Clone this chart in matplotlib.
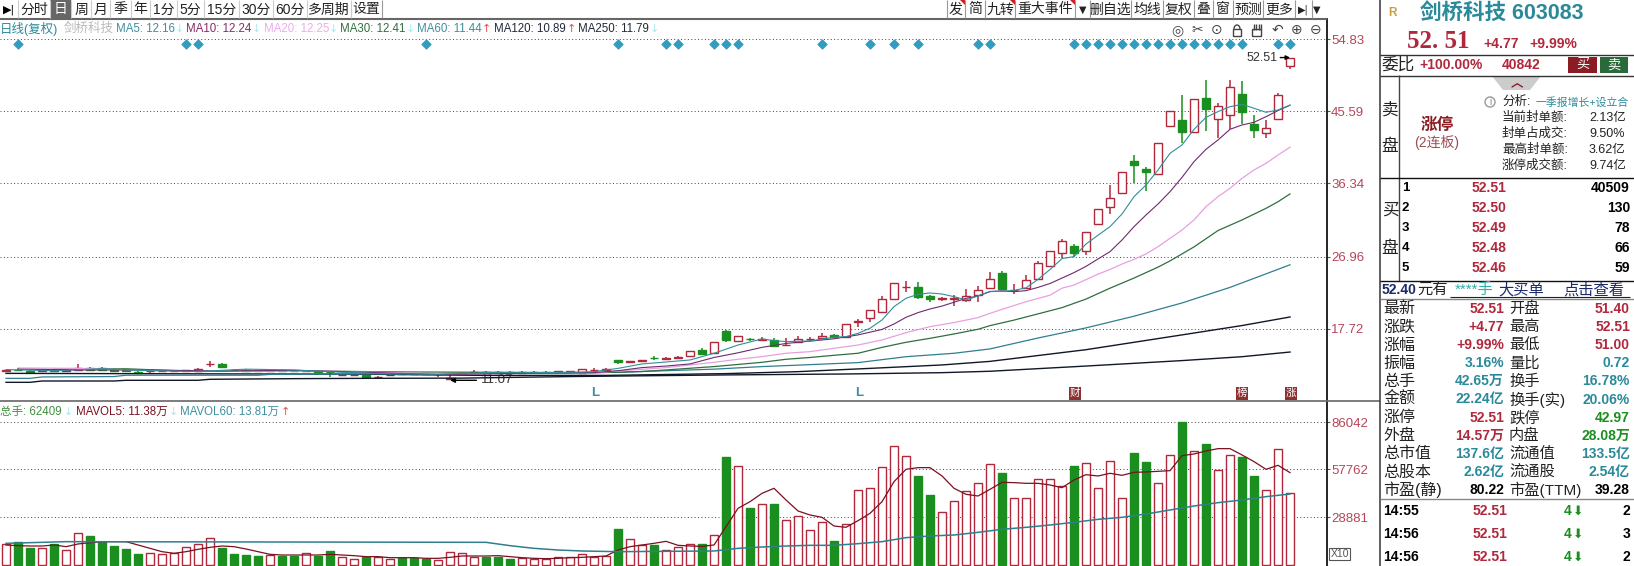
"""Capture d'écran d'un logiciel boursier : bougies, moyennes mobiles, volumes et panneau de cotation"""

import matplotlib
matplotlib.use("Agg")
import matplotlib.pyplot as plt
import matplotlib.patches as mpatches

plt.rcParams['font.family'] = ['Liberation Sans', 'Noto Sans CJK SC', 'DejaVu Sans']

W, H = 1634, 566
RED = '#b0283c'
GREEN = '#1a8f1f'
TEAL = '#2a8a9a'
TICK = '#b5465a'

# ---- données : open / high / low / close par séance
opens = [12.30, 12.45, 12.30, 12.30, 12.40, 12.25, 12.35, 12.60, 12.60, 12.35, 12.40, 12.15, 12.20, 12.25, 12.20, 12.25,
         12.30, 13.10, 13.10, 12.45, 12.40, 12.30, 12.25, 12.35, 12.30, 12.28, 12.25, 12.15, 11.75, 11.72, 11.80, 11.50,
         11.72, 11.92, 11.92, 11.95, 11.85, 11.25, 11.95, 12.10, 12.15, 12.10, 12.10, 12.05, 12.10, 12.12, 12.15, 12.15,
         12.06, 12.35, 12.45, 13.64, 13.45, 13.60, 13.90, 13.85, 13.98, 14.24, 14.93, 14.54, 17.40, 16.16, 16.40, 16.30,
         16.25, 15.58, 16.05, 16.35, 16.55, 16.90, 16.68, 18.60, 19.08, 19.80, 21.56, 23.00, 23.01, 21.90, 21.53, 21.53,
         21.39, 22.02, 22.96, 24.85, 22.62, 22.96, 24.03, 25.79, 27.37, 28.32, 27.63, 31.19, 33.28, 35.08, 39.23, 38.20,
         37.60, 43.77, 44.45, 42.91, 47.28, 44.58, 45.10, 47.83, 43.94, 42.78, 44.67, 51.40]
highs = [12.45, 12.60, 12.40, 12.50, 12.50, 12.70, 13.10, 12.80, 12.75, 12.60, 12.50, 12.30, 12.30, 12.40, 12.35, 12.45,
         12.65, 13.60, 13.25, 12.55, 12.50, 12.40, 12.40, 12.45, 12.40, 12.40, 12.35, 12.20, 11.85, 11.85, 11.85, 11.60,
         11.85, 12.05, 12.05, 12.05, 12.00, 11.95, 12.05, 12.35, 12.25, 12.25, 12.25, 12.20, 12.25, 12.25, 12.30, 12.30,
         12.48, 12.60, 12.65, 13.64, 13.60, 13.70, 14.20, 14.05, 14.15, 14.79, 15.18, 15.95, 17.58, 16.72, 16.55, 16.60,
         16.46, 16.46, 16.78, 16.60, 17.10, 17.00, 18.26, 18.90, 20.06, 21.94, 23.53, 23.78, 23.70, 22.00, 21.75, 22.03,
         22.76, 23.18, 24.97, 25.10, 23.43, 24.59, 26.34, 27.71, 29.17, 28.57, 30.07, 33.03, 36.15, 37.78, 40.00, 38.42,
         41.50, 45.61, 47.70, 47.15, 49.63, 46.64, 49.63, 49.46, 45.14, 44.50, 47.92, 52.51]
lows = [12.30, 12.30, 12.10, 12.20, 12.20, 12.25, 12.30, 12.20, 12.30, 12.30, 12.20, 12.00, 11.95, 12.15, 12.10, 12.20,
        12.25, 12.80, 12.65, 12.30, 12.15, 12.15, 12.15, 12.20, 12.15, 12.10, 12.05, 11.55, 11.70, 11.70, 11.40, 11.35,
        11.65, 11.80, 11.85, 11.80, 11.55, 11.07, 11.85, 12.00, 11.95, 12.00, 11.95, 11.95, 12.00, 12.00, 12.05, 12.05,
        11.95, 12.18, 12.40, 13.17, 13.35, 13.50, 13.70, 13.70, 13.85, 14.05, 14.45, 14.40, 16.04, 16.08, 16.15, 16.25,
        15.48, 15.48, 15.80, 16.10, 16.40, 16.50, 16.68, 17.90, 18.60, 19.80, 21.34, 22.46, 21.56, 21.17, 21.30, 20.66,
        21.17, 21.16, 22.96, 22.79, 22.10, 22.96, 24.03, 25.79, 26.73, 26.95, 27.20, 31.00, 32.38, 35.08, 36.36, 35.42,
        37.60, 43.64, 41.60, 42.91, 43.13, 42.14, 43.30, 43.98, 42.14, 42.23, 44.50, 51.00]
closes = [12.40, 12.35, 12.15, 12.40, 12.25, 12.35, 12.60, 12.45, 12.35, 12.30, 12.25, 12.05, 12.25, 12.30, 12.25, 12.35,
          12.55, 13.20, 12.80, 12.35, 12.20, 12.20, 12.30, 12.30, 12.22, 12.32, 12.18, 12.10, 11.78, 11.75, 11.55, 11.55,
          11.75, 11.88, 11.88, 11.90, 11.90, 11.35, 12.00, 12.15, 12.05, 12.05, 12.02, 12.10, 12.15, 12.15, 12.20, 12.20,
          12.48, 12.40, 12.48, 13.42, 13.55, 13.70, 13.88, 13.90, 14.02, 14.79, 14.45, 15.95, 16.25, 16.72, 16.32, 16.40,
          15.48, 15.62, 16.35, 16.40, 16.78, 16.62, 18.26, 18.65, 20.06, 21.47, 23.53, 23.05, 21.73, 21.56, 21.58, 21.58,
          21.94, 22.62, 24.12, 22.79, 22.66, 23.90, 26.09, 27.71, 28.91, 27.46, 30.07, 33.03, 34.44, 37.78, 38.72, 37.86,
          41.50, 45.61, 43.00, 47.15, 45.95, 46.25, 48.69, 45.57, 43.25, 43.51, 47.74, 52.51]

volumes = [12440, 13840, 10230, 10030, 12840, 8830, 19060, 17450, 14040, 11430, 9630, 6620, 7220, 6420, 7020, 10630,
           12440, 16050, 10230, 6620, 6020, 5420, 6020, 5620, 5620, 7020, 5620, 8430, 4610, 3410, 5020, 4610,
           3410, 4410, 4410, 3810, 2810, 7620, 7020, 5020, 5020, 4610, 3610, 4410, 3610, 3410, 4610, 4610,
           6420, 5020, 5420, 21660, 15450, 12040, 12040, 8830, 10630, 12440, 12640, 17850, 64990, 59380, 34300, 36510,
           36710, 26880, 29290, 20860, 25680, 14440, 24470, 44930, 46140, 58780, 71410, 65400, 53560, 42130, 31690, 38310,
           44330, 49150, 60580, 55370, 40120, 40120, 51550, 51550, 47340, 59580, 61180, 46140, 62409, 40120, 67400, 61990,
           49150, 66000, 86042, 68400, 72820, 56970, 66000, 64990, 53560, 44930, 69610, 43130]
mavol5 = [12040, 11630, 11430, 11430, 12040, 11030, 12640, 13440, 14040, 14040, 14040, 12040, 10030, 8020, 7020, 8020,
          9430, 10630, 11430, 11030, 9630, 8020, 6420, 6020, 6020, 6020, 6020, 6420, 6020, 5620, 5020, 5020,
          4410, 4410, 4410, 4010, 4010, 4610, 5420, 5420, 5420, 5620, 5020, 4410, 4010, 3810, 4010, 4410,
          4610, 5020, 5420, 9030, 11030, 12040, 13040, 14240, 11840, 11430, 11230, 12040, 23070, 34100, 38110, 43130,
          46140, 39120, 32500, 30090, 28690, 23470, 22670, 26680, 31090, 38110, 50150, 57570, 58580, 58580, 53560, 46140,
          42530, 41520, 45540, 49750, 49550, 49150, 49150, 48140, 46540, 51150, 54360, 53560, 55170, 53960, 55770, 55970,
          56370, 56770, 65800, 66800, 68610, 70010, 70010, 66200, 62190, 57570, 59980, 55570]
mavol60_x = [0, 5, 40, 42, 44, 46, 48, 51, 59, 61, 63, 65, 67, 69, 71, 73, 75, 77, 79, 81, 83, 85, 87, 89, 91, 93, 95, 97, 99, 101, 103, 105, 107]
mavol60 = [13040, 14040, 13640, 11630, 10030, 9030, 8430, 8020, 8430, 10030, 10830, 11430, 11840, 11840, 12840, 14040, 16450,
           17450, 18050, 19660, 21460, 22670, 24070, 25680, 27480, 28690, 30690, 33100, 35510, 37510, 39120, 41120, 42730]

# moyennes mobiles (séance, valeur)
ma5_x = [0, 4, 8, 12, 16, 20, 24, 28, 32, 36, 40, 44, 47, 49, 51, 53, 55, 57, 59, 61, 63, 64, 65, 67, 69, 70, 71, 72, 73, 74, 75, 76, 77, 78, 79, 80, 81, 82, 83, 84, 85, 86, 87, 88, 89, 90, 91, 92, 93, 94, 95, 96, 97, 98, 99, 100, 101, 102, 103, 104, 105, 106, 107]
ma5 = [12.45, 12.30, 12.55, 12.30, 12.20, 12.50, 12.40, 12.10, 11.90, 11.85, 12.05, 12.05, 12.10, 12.18, 12.60, 13.17, 13.42, 13.68, 14.54, 15.60, 16.38, 16.16, 16.04, 16.12, 16.59, 16.68, 17.10, 17.75, 18.82, 20.53, 21.60, 22.11, 22.28, 22.15, 21.81, 21.38, 21.90, 22.49, 22.50, 22.60, 22.95, 24.03, 25.30, 26.70, 26.95, 28.57, 29.70, 30.80, 32.43, 34.65, 36.15, 38.08, 40.22, 41.29, 43.30, 44.84, 45.57, 46.20, 46.50, 46.00, 45.48, 45.78, 46.40]
ma10_x = [1, 6, 12, 18, 24, 30, 36, 42, 47, 49, 51, 53, 55, 57, 59, 61, 63, 65, 67, 69, 71, 73, 74, 75, 76, 77, 78, 80, 81, 82, 83, 84, 85, 86, 87, 88, 89, 90, 91, 92, 93, 94, 95, 96, 97, 98, 99, 100, 101, 102, 103, 104, 105, 106, 107]
ma10 = [12.50, 12.40, 12.40, 12.25, 12.35, 12.10, 11.80, 11.95, 12.00, 12.05, 12.30, 12.70, 12.90, 13.17, 14.00, 14.60, 15.30, 15.80, 16.10, 16.40, 16.90, 17.60, 18.30, 19.16, 19.76, 20.23, 20.60, 21.59, 21.90, 22.45, 22.55, 22.45, 22.58, 23.00, 23.50, 24.20, 24.90, 25.70, 26.65, 27.59, 29.09, 30.80, 32.30, 33.71, 35.29, 37.13, 39.15, 40.73, 41.93, 43.30, 43.85, 44.20, 44.92, 45.70, 46.40]
ma20_x = [1, 6, 12, 20, 26, 33, 38, 44, 49, 51, 53, 55, 57, 59, 61, 63, 65, 67, 69, 71, 73, 75, 77, 79, 81, 82, 83, 85, 87, 88, 89, 90, 91, 92, 93, 94, 95, 96, 97, 98, 99, 100, 101, 102, 103, 104, 105, 106, 107]
ma20 = [12.65, 12.60, 12.35, 12.20, 12.30, 12.00, 11.90, 11.95, 12.00, 12.27, 12.48, 12.70, 13.04, 13.38, 13.77, 14.11, 14.54, 14.75, 15.18, 15.60, 16.25, 17.19, 17.96, 18.48, 19.12, 19.67, 20.18, 21.16, 22.00, 22.90, 23.30, 24.00, 24.70, 25.30, 26.00, 26.60, 27.30, 28.23, 29.30, 30.37, 31.66, 33.37, 34.65, 35.72, 37.00, 38.08, 38.93, 40.00, 41.00]
ma30_x = [4, 10, 16, 24, 32, 40, 48, 51, 53, 55, 59, 63, 65, 67, 69, 71, 73, 75, 77, 79, 81, 82, 84, 86, 88, 90, 92, 94, 96, 97, 99, 101, 103, 105, 106, 107]
ma30 = [12.50, 12.55, 12.20, 12.30, 12.15, 12.10, 12.05, 12.10, 12.20, 12.40, 12.83, 13.38, 13.77, 14.00, 14.28, 14.54, 15.30, 15.95, 16.46, 17.02, 17.62, 18.09, 18.80, 19.60, 20.40, 21.50, 22.90, 24.20, 25.60, 26.40, 28.20, 30.30, 31.66, 33.15, 34.00, 35.00]
ma60_x = [0, 2, 3, 9, 10, 21, 22, 32, 47, 51, 59, 63, 67, 71, 75, 79, 82, 86, 90, 94, 98, 102, 107]
ma60 = [11.32, 11.32, 11.50, 11.55, 11.72, 11.72, 11.82, 11.90, 12.00, 12.10, 12.50, 12.83, 13.08, 13.34, 14.10, 14.54, 15.10, 16.50, 17.80, 19.30, 21.00, 23.00, 25.90]
ma120_x = [0, 30, 40, 50, 60, 66, 72, 78, 82, 90, 98, 103, 107]
ma120 = [11.96, 11.85, 11.70, 11.70, 11.93, 12.18, 12.60, 13.04, 13.50, 15.00, 16.90, 18.10, 19.20]
ma250_x = [0, 2, 3, 9, 10, 16, 17, 24, 30, 38, 47, 60, 70, 78, 82, 90, 98, 103, 107]
ma250 = [10.81, 10.81, 10.98, 10.98, 11.07, 11.07, 11.20, 11.28, 11.32, 11.35, 11.55, 11.76, 11.88, 12.05, 12.23, 12.90, 13.60, 14.10, 14.70]

signal_days = [1, 15, 16, 35, 51, 55, 56, 59, 60, 61, 68, 72, 74, 76, 81, 82, 89, 90, 91, 92, 93, 94, 95, 96, 97, 98, 99, 100, 101, 102, 103, 106, 107]
price_ticks = [17.72, 26.96, 36.34, 45.59, 54.83]
volume_ticks = [28881, 57762, 86042]

ma_styles = [(ma250_x, ma250, '#101828', 1.0), (ma120_x, ma120, '#101828', 1.0), (ma60_x, ma60, '#2f7f8f', 0.9), (ma30_x, ma30, '#2f6f3f', 0.9),
             (ma20_x, ma20, '#e8a0e0', 0.9), (ma10_x, ma10, '#6e2a6e', 0.8), (ma5_x, ma5, '#2f8f9a', 0.8)]

# textes du panneau de droite
left_labels = ['最新', '涨跌', '涨幅', '振幅', '总手', '金额', '涨停', '外盘', '总市值', '总股本', '市盈(静)']
left_values = ['52.51', '+4.77', '+9.99%', '3.16%', '42.65万', '22.24亿', '52.51', '14.57万', '137.6亿', '2.62亿', '80.22']
left_colors = [RED, RED, RED, TEAL, TEAL, TEAL, RED, RED, TEAL, TEAL, 'black']
right_labels = ['开盘', '最高', '最低', '量比', '换手', '换手(实)', '跌停', '内盘', '流通值', '流通股', '市盈(TTM)']
right_values = ['51.40', '52.51', '51.00', '0.72', '16.78%', '20.06%', '42.97', '28.08万', '133.5亿', '2.54亿', '39.28']
right_colors = [RED, RED, RED, TEAL, TEAL, TEAL, GREEN, GREEN, TEAL, TEAL, 'black']
book_prices = ['52.51', '52.50', '52.49', '52.48', '52.46']
book_sizes = ['40509', '130', '78', '66', '59']
deal_times = ['14:55', '14:56', '14:56']
deal_prices = ['52.51', '52.51', '52.51']
deal_sizes = ['2', '3', '2']
tabs_left = ['分时', '日', '周', '月', '季', '年', '1分', '5分', '15分', '30分', '60分', '多周期', '设置']
tabs_left_x = [18, 50, 71, 91, 110, 131, 150, 177, 204, 239, 273, 307, 351, 382]
tabs_right = ['发', '简', '九转', '重大事件', '▼', '删自选', '均线', '复权', '叠', '窗', '预测', '更多', '▶|', '▼']
tabs_right_x = [947, 965, 985, 1015, 1075, 1090, 1131, 1163, 1194, 1213, 1233, 1263, 1295, 1312, 1322]

fig = plt.figure(figsize=(W / 100, H / 100), dpi=100, facecolor='white')


def pixel_axes(left, top, right, bottom):
    return fig.add_axes([left / W, 1 - bottom / H, (right - left) / W, (bottom - top) / H])


# ---- bougies
ax = pixel_axes(0, 19, 1327, 400)
ax.set_xlim(-0.5, 110.08)
ax.set_ylim(8.54, 57.46)
days = list(range(len(closes)))
for i in days:
    up = closes[i] >= opens[i]
    col = RED if up else GREEN
    ax.vlines(i, lows[i], highs[i], color=col, lw=1.1, zorder=2)
    ax.bar(i, abs(closes[i] - opens[i]), bottom=min(opens[i], closes[i]), width=0.68,
           facecolor='white' if up else GREEN, edgecolor=col, lw=1, zorder=3)
for xs, ys, col, width in ma_styles:
    ax.plot(xs, ys, color=col, lw=width, zorder=4)
ax.scatter(signal_days, [54.3] * len(signal_days), marker='D', s=20, color='#2f9cc0', zorder=5)
ax.annotate('52.51', xy=(107, 52.51), xytext=(-9, 0), textcoords='offset points', fontsize=9, color='#333333',
            va='center', ha='right', arrowprops=dict(arrowstyle='-|>', color='black', lw=1, shrinkA=0, shrinkB=0, mutation_scale=6))
ax.annotate('11.07', xy=(37, 11.07), xytext=(22, 0), textcoords='offset points', fontsize=9.5, color='#333333',
            va='center', ha='left', arrowprops=dict(arrowstyle='-|>', color='black', lw=1, shrinkA=1, shrinkB=0, mutation_scale=7))
ax.set_yticks(price_ticks)
ax.set_yticklabels([f"{t:.2f}" for t in price_ticks], color=TICK, fontsize=9.5)
ax.yaxis.tick_right()
ax.tick_params(axis='y', length=2, pad=1, color='#555555')
ax.set_xticks([])
ax.grid(axis='y', ls=(0, (1, 2.5)), color='#444444', lw=0.7)
ax.set_axisbelow(True)
for s in ['top', 'left', 'bottom']:
    ax.spines[s].set_visible(False)
ax.spines['right'].set_linewidth(1.2)

# ---- volumes
vx = pixel_axes(0, 402, 1327, 566)
vx.set_xlim(-0.5, 110.08)
vx.set_ylim(-601.7, 98077)
for i in days:
    up = closes[i] >= opens[i]
    vx.bar(i, volumes[i], width=0.7, facecolor='white' if up else GREEN, edgecolor=RED if up else GREEN, lw=1, zorder=3)
vx.plot(days, mavol5, color='#7a1020', lw=0.9, zorder=4)
vx.plot(mavol60_x, mavol60, color='#2f7f8f', lw=1.1, zorder=4)
vx.set_yticks(volume_ticks)
vx.set_yticklabels([str(t) for t in volume_ticks], color=TICK, fontsize=9.5)
vx.yaxis.tick_right()
vx.tick_params(axis='y', length=2, pad=1, color='#555555')
vx.set_xticks([])
vx.grid(axis='y', ls=(0, (1, 2.5)), color='#444444', lw=0.7)
vx.set_axisbelow(True)
for s in ['top', 'left', 'bottom']:
    vx.spines[s].set_visible(False)
vx.spines['right'].set_linewidth(1.2)

# ---- calque en pixels pour l'interface
ui = fig.add_axes([0, 0, 1, 1], zorder=10)
ui.set_xlim(0, W)
ui.set_ylim(H, 0)
ui.axis('off')


def txt(x, y, s, size=9.5, color='black', ha='left', weight='normal', **kw):
    ui.text(x, y, s, fontsize=size, color=color, ha=ha, va='center', fontweight=weight, **kw)


def hline(y, x0, x1, color='#444444', lw=1):
    ui.plot([x0, x1], [y, y], color=color, lw=lw, solid_capstyle='butt')


def vline(x, y0, y1, color='#444444', lw=1):
    ui.plot([x, x], [y0, y1], color=color, lw=lw, solid_capstyle='butt')


def box(x0, y0, x1, y1, color):
    ui.add_patch(mpatches.Rectangle((x0, y0), x1 - x0, y1 - y0, facecolor=color, edgecolor='none'))


# barre d'outils
hline(18.5, 0, 1327, '#666666', 1.5)
hline(401, 0, 1380, '#666666', 1.2)
txt(9, 9.5, '▶|', 8, 'black', ha='center', family='DejaVu Sans')
for k, label in enumerate(tabs_left):
    x0, x1 = tabs_left_x[k], tabs_left_x[k + 1]
    if label == '日':
        box(x0, 0, x1, 18, '#666666')
    txt((x0 + x1) / 2, 9.5, label, 10, 'white' if label == '日' else '#222222', ha='center')
    vline(x0, 0, 18, '#cccccc', 0.8)
vline(tabs_left_x[-1], 0, 18, '#999999', 0.8)
for k, label in enumerate(tabs_right):
    x0, x1 = tabs_right_x[k], tabs_right_x[k + 1]
    fam = 'DejaVu Sans' if label in ('▼', '▶|') else None
    txt((x0 + x1) / 2, 9.5, label, 7 if fam else 10, '#222222', ha='center', **({'family': fam} if fam else {}))
    vline(x0, 0, 18, '#999999', 0.8)
for x1 in [965, 1015, 1075]:
    ui.add_patch(mpatches.Polygon([(x1 - 5, 0), (x1, 0), (x1, 5)], facecolor='#d02020', edgecolor='none'))

# légende MA
row = 29
for x, s, col, size in [(0, '日线(复权)', TEAL, 9), (64, '剑桥科技', '#bbbbbb', 9), (116, 'MA5: 12.16', '#3f8f9f', 8.3), (186, 'MA10: 12.24', '#8a2a6a', 8.3),
                        (264, 'MA20: 12.25', '#eeaaee', 8.3), (340, 'MA30: 12.41', '#2f6f3f', 8.3), (417, 'MA60: 11.44', '#3f8f9f', 8.3),
                        (494, 'MA120: 10.89', '#222a3a', 8.3), (578, 'MA250: 11.79', '#222a3a', 8.3)]:
    txt(x, row, s, size, col)
for x, s, col in [(179.5, '↓', '#a8e8f0'), (256, '↓', '#a8e8f0'), (333, '↓', '#a8e8f0'), (410, '↓', '#a8e8f0'),
                  (486.5, '↑', '#e05050'), (571, '↑', '#e05050'), (654, '↓', '#a8e8f0')]:
    txt(x, row, s, 8, col, ha='center', family='DejaVu Sans')
for x, s in [(1177, '◎'), (1197, '✂'), (1217, '⊙'), (1277, '↶'), (1297, '⊕'), (1316, '⊖')]:
    txt(x, 30, s, 10, '#444444', ha='center', family='DejaVu Sans')
# cadenas et main : aucune police installée pour ces pictogrammes
ui.add_patch(mpatches.Rectangle((1233, 29), 8, 7, facecolor='white', edgecolor='#444444', lw=1))
ui.add_patch(mpatches.Arc((1237, 29), 6, 8, theta1=180, theta2=360, edgecolor='#444444', lw=1))
ui.add_patch(mpatches.FancyBboxPatch((1253, 30), 8, 6, boxstyle='round,pad=0.5', facecolor='white', edgecolor='#444444', lw=1))
for fx in [1254, 1256.5, 1259, 1261]:
    vline(fx, 24, 30, '#444444', 1)

# repères sous les bougies
txt(595, 393, 'L', 9.5, '#3f8f9f', ha='center', weight='bold')
txt(859, 393, 'L', 9.5, '#3f8f9f', ha='center', weight='bold')
for x, s in [(1075, '财'), (1242, '榜'), (1291, '涨')]:
    box(x - 6, 387, x + 6, 400, '#8c3030')
    txt(x, 393, s, 7.5, 'white', ha='center')

# légende volumes
for x, s, col in [(0, '总手: 62409', '#3f8f3f'), (76, 'MAVOL5: 11.38万', '#7a1020'), (180, 'MAVOL60: 13.81万', '#3f8f9f')]:
    txt(x, 412, s, 8.3, col)
for x, s, col in [(68, '↓', '#a8e8f0'), (173, '↓', '#a8e8f0'), (285, '↑', '#e05050')]:
    txt(x, 412, s, 8, col, ha='center', family='DejaVu Sans')
ui.add_patch(mpatches.Rectangle((1329, 548), 21, 12, facecolor='white', edgecolor='#555555', lw=0.8))
txt(1331, 554, 'X10', 7.5, '#555555')

# ---- panneau de droite
vline(1380, 0, H, '#444444', 1.2)
txt(1388, 13, 'R', 8.5, '#c8a040', weight='bold')
txt(1420, 13, '剑桥科技 603083', 15.5, TEAL, weight='bold')
txt(1407, 41, '52. 51', 18, RED, weight='bold', family='Liberation Serif')
txt(1483, 44, '+4.77', 10, RED, weight='bold')
txt(1529, 44, '+9.99%', 10, RED, weight='bold')
hline(54.5, 1380, W, '#333333')
txt(1381, 65, '委比', 12, '#222222')
txt(1419, 65, '+100.00%', 10, RED, weight='bold')
txt(1502, 65, '40842', 10, RED, weight='bold')
box(1568, 57, 1597, 73, '#8c1c24')
txt(1582.5, 65, '买', 9.5, 'white', ha='center')
box(1600, 57, 1628, 73, '#2a6a3a')
txt(1614, 65, '卖', 9.5, 'white', ha='center')
hline(75.5, 1380, W, '#333333')
ui.add_patch(mpatches.Polygon([(1492, 76), (1541, 76), (1530, 90), (1503, 90)], facecolor='#cccccc', edgecolor='none'))
txt(1516.5, 83, '︿', 9, '#8c1c24', ha='center', weight='bold', family='Noto Sans CJK SC')
vline(1399.5, 75, 178)
vline(1399.5, 178, 281)
txt(1390, 110, '卖', 12, '#222222', ha='center')
txt(1390, 146, '盘', 12, '#222222', ha='center')
txt(1437, 125, '涨停', 12, '#8c1c24', ha='center', weight='bold')
txt(1437, 143, '(2连板)', 10, '#9c4c54', ha='center')
ui.add_patch(mpatches.Circle((1490, 102), 5, facecolor='white', edgecolor='#999999', lw=1))
txt(1490, 102, 'i', 7, '#888888', ha='center')
txt(1502, 102, '分析:', 9, '#222222')
txt(1536, 102, '一季报增长+设立合', 7.8, TEAL)
for y, lab, val in [(118, '当前封单额:', '2.13亿'), (134, '封单占成交:', '9.50%'), (150, '最高封单额:', '3.62亿'), (166, '涨停成交额:', '9.74亿')]:
    txt(1502, y, lab, 9, '#222222')
    txt(1589, y, val, 9, '#222222')
hline(178, 1380, W, '#111111')
txt(1390, 210, '买', 12, '#222222', ha='center')
txt(1390, 248, '盘', 12, '#222222', ha='center')
for k in range(5):
    y = 188 + k * 20
    txt(1402, y, str(k + 1), 9.5, 'black', weight='bold')
    txt(1472, y, book_prices[k], 10, RED, weight='bold')
    txt(1630, y, book_sizes[k], 10, 'black', ha='right', weight='bold')
hline(281, 1380, W, '#111111')
txt(1382, 290, '52.40', 10, '#1a2a6a', weight='bold')
txt(1417, 290, '元有', 11, '#222222')
txt(1455, 290, '****手', 11, '#30b0a8')
txt(1498, 290, '大买单', 11, '#1a2a6a')
txt(1563, 290, '点击查看', 11, '#1a2a6a')
hline(297, 1450, 1630, '#222222', 0.8)
hline(299, 1380, W, '#888888')
for k in range(11):
    y = 309 + k * 18.1
    txt(1383, y, left_labels[k], 11.5, '#222222')
    txt(1504, y, left_values[k], 10, left_colors[k], ha='right', weight='bold')
    txt(1509, y, right_labels[k], 11, '#222222')
    txt(1630, y, right_values[k], 10, right_colors[k], ha='right', weight='bold')
hline(498.5, 1380, W, '#888888')
for k in range(3):
    y = 511 + k * 23
    txt(1383, y, deal_times[k], 10, 'black', weight='bold')
    txt(1473, y, deal_prices[k], 10, RED, weight='bold')
    txt(1564, y, '4', 10, GREEN, weight='bold')
    txt(1578, y, '⬇', 9, GREEN, ha='center', family='DejaVu Sans')
    txt(1630, y, deal_sizes[k], 10, 'black', ha='right', weight='bold')

fig.savefig("out.png", dpi=100)
